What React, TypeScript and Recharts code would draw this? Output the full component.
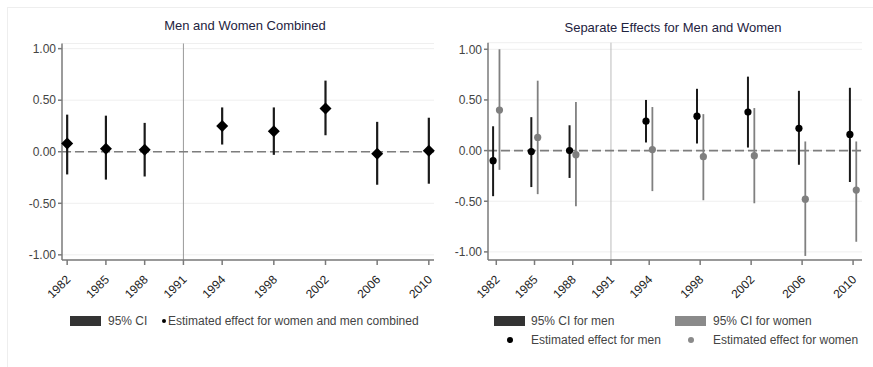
import React from "react";
import {
  ScatterChart,
  Scatter,
  XAxis,
  YAxis,
  CartesianGrid,
  ReferenceLine,
  ErrorBar,
} from "recharts";

const years = [1982, 1985, 1988, 1994, 1998, 2002, 2006, 2010];
const xTicks = [1982, 1985, 1988, 1991, 1994, 1998, 2002, 2006, 2010];
const yTicks = [-1, -0.5, 0, 0.5, 1];

const combinedEst = [0.08, 0.03, 0.02, 0.25, 0.2, 0.42, -0.02, 0.01];
const combinedLow = [-0.22, -0.27, -0.24, 0.07, -0.03, 0.16, -0.32, -0.31];
const combinedHigh = [0.36, 0.35, 0.28, 0.43, 0.43, 0.69, 0.29, 0.33];

const menEst = [-0.1, -0.01, 0.0, 0.29, 0.34, 0.38, 0.22, 0.16];
const menLow = [-0.45, -0.36, -0.27, 0.08, 0.07, 0.03, -0.14, -0.31];
const menHigh = [0.24, 0.33, 0.25, 0.5, 0.61, 0.73, 0.59, 0.62];

const womenEst = [0.4, 0.13, -0.04, 0.01, -0.06, -0.05, -0.48, -0.39];
const womenLow = [-0.19, -0.43, -0.55, -0.4, -0.49, -0.52, -1.04, -0.9];
const womenHigh = [1.0, 0.69, 0.48, 0.43, 0.36, 0.42, 0.09, 0.09];

const FONT = "'Liberation Sans', Arial, sans-serif";

// dodge men / women a little either side of the survey year
const build = (est: number[], low: number[], high: number[], dodge = 0) =>
  years.map((yr, i) => ({
    x: yr + dodge,
    y: est[i],
    err: [est[i] - low[i], high[i] - est[i]],
  }));

const combinedData = build(combinedEst, combinedLow, combinedHigh);
const menData = build(menEst, menLow, menHigh, -0.25);
const womenData = build(womenEst, womenLow, womenHigh, 0.25);

const Diamond = (props: any) => {
  const { cx, cy } = props;
  const r = 6;
  return (
    <polygon
      points={`${cx},${cy - r} ${cx + r},${cy} ${cx},${cy + r} ${cx - r},${cy}`}
      fill="#000"
    />
  );
};

const Dot = (color: string) => (props: any) =>
  <circle cx={props.cx} cy={props.cy} r={3.6} fill={color} />;

const XTick = (props: any) => {
  const { x, y, payload } = props;
  return (
    <g transform={`translate(${x - 3},${y + 9})`}>
      <text
        transform="rotate(-45)"
        textAnchor="end"
        dy={8}
        dx={2}
        fontSize={12}
        fill="#222"
        fontFamily={FONT}
      >
        {payload.value}
      </text>
    </g>
  );
};

const axisProps = {
  stroke: "#7a7a7a",
  strokeWidth: 1.5,
};

const Panel: React.FC<{
  width: number;
  yWidth: number;
  right: number;
  top: number;
  xDomain: [number, number];
  yDomain: [number, number];
  vLine: string;
  children?: React.ReactNode;
}> = ({ width, yWidth, right, top, xDomain, yDomain, vLine, children }) => (
  <ScatterChart
    width={width}
    height={310}
    margin={{ top, right, left: 0, bottom: 0 }}
  >
    <CartesianGrid vertical={false} stroke="#efefef" />
    <XAxis
      type="number"
      dataKey="x"
      domain={xDomain}
      ticks={xTicks}
      interval={0}
      height={50}
      tick={<XTick />}
      tickSize={5}
      {...axisProps}
    />
    <YAxis
      type="number"
      dataKey="y"
      domain={yDomain}
      ticks={yTicks}
      width={yWidth}
      tickFormatter={(v: number) => v.toFixed(2)}
      tick={{ fontSize: 12, fill: "#444", fontFamily: FONT }}
      tickSize={4}
      {...axisProps}
    />
    <ReferenceLine x={1991} stroke={vLine} strokeWidth={1} />
    <ReferenceLine
      y={0}
      stroke="#7d7d7d"
      strokeWidth={1.6}
      strokeDasharray="9 4"
    />
    {children}
  </ScatterChart>
);

const legendText: React.CSSProperties = {
  position: "absolute",
  fontSize: 12,
  color: "#444",
  fontFamily: FONT,
  whiteSpace: "nowrap",
  lineHeight: "14px",
};

const box = (
  left: number,
  top: number,
  color: string
): React.CSSProperties => ({
  position: "absolute",
  left,
  top,
  width: 31,
  height: 10,
  background: color,
});

const dot = (left: number, top: number, color: string, d: number) => ({
  position: "absolute" as const,
  left: left - d / 2,
  top: top - d / 2,
  width: d,
  height: d,
  borderRadius: "50%",
  background: color,
});

const titleStyle: React.CSSProperties = {
  position: "absolute",
  fontSize: 13,
  color: "#1e2340",
  fontFamily: FONT,
  whiteSpace: "nowrap",
  transform: "translateX(-50%)",
};

export default function App() {
  return (
    <div
      style={{
        position: "absolute",
        left: 0,
        top: 0,
        width: 873,
        height: 367,
        background: "#fff",
        overflow: "hidden",
      }}
    >
      {/* faint panel frames */}
      <div
        style={{
          position: "absolute",
          left: 7,
          top: 7,
          width: 430,
          height: 360,
          borderTop: "1px solid #eeeeee",
          borderLeft: "1px solid #eeeeee",
        }}
      />
      <div
        style={{
          position: "absolute",
          left: 437,
          top: 7,
          width: 436,
          height: 360,
          borderTop: "1px solid #eeeeee",
        }}
      />

      <div style={{ ...titleStyle, left: 245, top: 18 }}>
        Men and Women Combined
      </div>
      <div style={{ ...titleStyle, left: 673, top: 20 }}>
        Separate Effects for Men and Women
      </div>

      <div style={{ position: "absolute", left: 0, top: 0 }}>
        <Panel
          width={437}
          yWidth={62}
          right={3}
          top={43.5}
          xDomain={[1981.6, 2010.4]}
          yDomain={[-1.05, 1.05]}
          vLine="#999"
        >
          <Scatter
            data={combinedData}
            shape={<Diamond />}
            isAnimationActive={false}
          >
            <ErrorBar
              dataKey="err"
              direction="y"
              width={0}
              stroke="#1a1a1a"
              strokeWidth={2.2}
              isAnimationActive={false}
            />
          </Scatter>
        </Panel>
      </div>

      <div style={{ position: "absolute", left: 437, top: 0 }}>
        <Panel
          width={436}
          yWidth={51}
          right={11}
          top={42.7}
          xDomain={[1981.35, 2010.7]}
          yDomain={[-1.08, 1.065]}
          vLine="#bbb"
        >
          <Scatter
            data={menData}
            shape={Dot("#000")}
            isAnimationActive={false}
          >
            <ErrorBar
              dataKey="err"
              direction="y"
              width={0}
              stroke="#1a1a1a"
              strokeWidth={2}
              isAnimationActive={false}
            />
          </Scatter>
          <Scatter
            data={womenData}
            shape={Dot("#7f7f7f")}
            isAnimationActive={false}
          >
            <ErrorBar
              dataKey="err"
              direction="y"
              width={0}
              stroke="#808080"
              strokeWidth={1.8}
              isAnimationActive={false}
            />
          </Scatter>
        </Panel>
      </div>

      {/* legend, left panel */}
      <div style={box(70, 316, "#333")} />
      <div style={{ ...legendText, left: 108, top: 314 }}>95% CI</div>
      <div style={dot(164, 321, "#000", 4)} />
      <div style={{ ...legendText, left: 168, top: 314 }}>
        Estimated effect for women and men combined
      </div>

      {/* legend, right panel */}
      <div style={box(494, 316, "#333")} />
      <div style={{ ...legendText, left: 531, top: 314 }}>95% CI for men</div>
      <div style={box(675, 316, "#8a8a8a")} />
      <div style={{ ...legendText, left: 713, top: 314 }}>
        95% CI for women
      </div>
      <div style={dot(510, 340, "#000", 6)} />
      <div style={{ ...legendText, left: 531, top: 333 }}>
        Estimated effect for men
      </div>
      <div style={dot(691, 340, "#8a8a8a", 6)} />
      <div style={{ ...legendText, left: 713, top: 333 }}>
        Estimated effect for women
      </div>
    </div>
  );
}
